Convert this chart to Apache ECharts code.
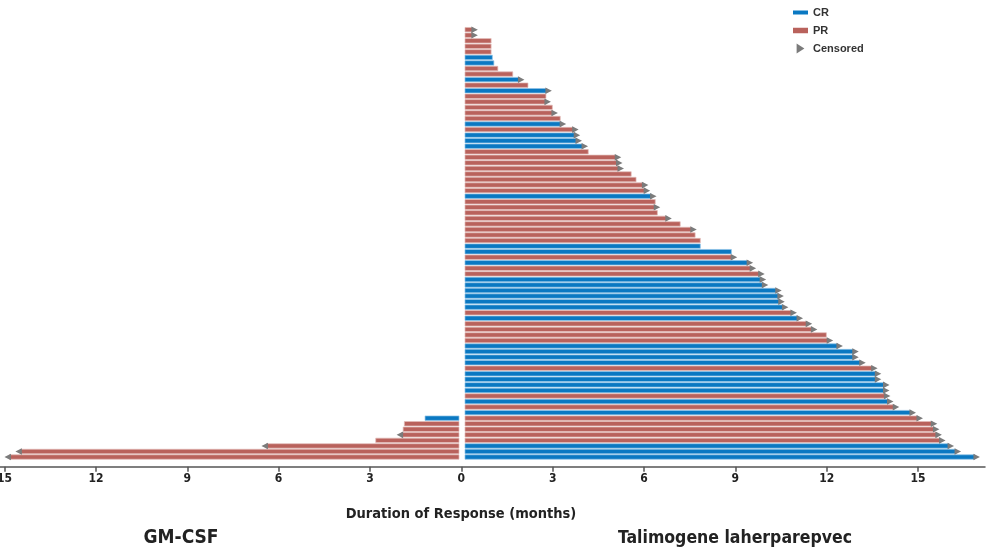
<!DOCTYPE html>
<html><head><meta charset="utf-8">
<script src="https://cdn.jsdelivr.net/npm/echarts@6/dist/echarts.min.js"></script>
<style>html,body{margin:0;padding:0;background:#fff}#c{width:988px;height:550px}</style>
</head><body><div id="c"></div>
<script>
// ---- data (rows listed top to bottom) ----
const tickValues = [-15, -12, -9, -6, -3, 0, 3, 6, 9, 12, 15];

const taliDuration = [
  0.38, 0.38, 0.98, 0.98, 0.98, 1.02, 1.07, 1.20, 1.69, 1.91,
  2.19, 2.81, 2.78, 2.78, 2.99, 3.01, 3.25, 3.28, 3.69, 3.74,
  3.80, 4.00, 4.17, 5.09, 5.13, 5.18, 5.58, 5.74, 5.98, 6.04,
  6.25, 6.37, 6.37, 6.44, 6.75, 7.19, 7.57, 7.68, 7.85, 7.85,
  8.87, 8.90, 9.42, 9.52, 9.80, 9.85, 9.92, 10.36, 10.43, 10.46,
  10.58, 10.86, 11.06, 11.36, 11.53, 11.99, 12.05, 12.37, 12.89, 12.89,
  13.12, 13.51, 13.63, 13.63, 13.90, 13.90, 13.93, 14.03, 14.22, 14.77,
  15.00, 15.47, 15.54, 15.62, 15.74, 16.02, 16.25, 16.87
];
const taliResponse = [
  'PR','PR','PR','PR','PR','CR','CR','PR','PR','CR',
  'PR','CR','PR','PR','PR','PR','PR','CR','PR','CR',
  'CR','CR','PR','PR','PR','PR','PR','PR','PR','PR',
  'CR','PR','PR','PR','PR','PR','PR','PR','PR','CR',
  'CR','PR','CR','PR','PR','CR','CR','CR','CR','CR',
  'CR','PR','CR','PR','PR','PR','PR','CR','CR','CR',
  'CR','PR','CR','CR','CR','CR','PR','CR','PR','CR',
  'PR','PR','PR','PR','PR','CR','CR','CR'
];
const taliCensored = [
  1,1,0,0,0,0,0,0,0,1,
  0,1,0,1,0,1,0,1,1,1,
  1,1,0,1,1,1,0,0,1,1,
  1,0,1,0,1,0,1,0,0,0,
  0,1,1,1,1,1,1,1,1,1,
  1,1,1,1,1,0,1,1,1,1,
  1,1,1,1,1,1,1,1,1,1,
  1,1,1,1,1,1,1,1
];

const gmDuration = [1.19, 1.87, 1.91, 1.96, 2.81, 6.40, 14.48, 14.84];
const gmResponse = ['CR','PR','PR','PR','PR','PR','PR','PR'];
const gmCensored = [0, 0, 0, 1, 0, 1, 1, 1];

const legendLabels = ['CR', 'PR', 'Censored'];
const axisTitle = 'Duration of Response (months)';
const armLabels = ['GM-CSF', 'Talimogene laherparepvec'];

// ---- build ----
const COLORS = { CR: '#0a78c2', PR: '#b9625c', Censored: '#7b7b7b' };
const EDGE = { CR: '#8fc3e6', PR: '#e3bcb8' };
const FONT = "'DejaVu Sans Condensed', 'Liberation Sans', sans-serif";

const nRows = taliDuration.length;
const rows = taliDuration.map((_, i) => String(i));
const gmOffset = nRows - gmDuration.length;

const barData = { CR: [], PR: [] };
const censData = [];
taliDuration.forEach((d, i) => {
  barData[taliResponse[i]].push([d, i]);
  if (taliCensored[i]) censData.push([d, i]);
});
gmDuration.forEach((d, j) => {
  barData[gmResponse[j]].push([-d, gmOffset + j]);
  if (gmCensored[j]) censData.push([-d, gmOffset + j]);
});

function barRenderer(key) {
  return function (params, api) {
    const v = api.value(0), row = api.value(1);
    const zero = api.coord([0, row]);
    const end = api.coord([v, row]);
    const h = api.size([0, 1])[1];
    const x0 = v >= 0 ? zero[0] + 3.7 : zero[0] - 2.3;
    const bh = h * 0.8;
    return {
      type: 'rect',
      shape: { x: Math.min(x0, end[0]), y: end[1] - bh / 2, width: Math.abs(end[0] - x0), height: bh },
      style: { fill: COLORS[key], stroke: EDGE[key], lineWidth: 0.7 }
    };
  };
}
function censRenderer(params, api) {
  const v = api.value(0), row = api.value(1);
  const p = api.coord([v, row]);
  const dir = v >= 0 ? 1 : -1;
  return {
    type: 'polygon',
    shape: { points: [[p[0] - dir * 1.5, p[1] - 3.3], [p[0] + dir * 5, p[1]], [p[0] - dir * 1.5, p[1] + 3.3]] },
    style: { fill: COLORS.Censored }
  };
}

const chart = echarts.init(document.getElementById('c'), null, { renderer: 'canvas' });
chart.setOption({
  animation: false,
  backgroundColor: '#ffffff',
  grid: { left: 0, width: 985, top: 26.9, height: 432.9, outerBoundsMode: 'none', containLabel: false },
  legend: {
    orient: 'vertical', left: 788, top: 2, itemWidth: 15, itemHeight: 10, itemGap: 7,
    symbolKeepAspect: true,
    textStyle: { color: '#333', fontSize: 11, fontWeight: 'bold', fontFamily: "'Liberation Sans', Arial, sans-serif" },
    data: [
      { name: legendLabels[0], icon: 'path://M0,0H15V4H0Z' },
      { name: legendLabels[1], icon: 'path://M0,0H15V5.5H0Z' },
      { name: legendLabels[2], icon: 'path://M0,0L7,4.5L0,9Z' }
    ]
  },
  xAxis: {
    type: 'value', min: -15.15, max: 17.2, offset: 7,
    splitLine: { show: false },
    axisLine: { show: true, lineStyle: { color: '#555', width: 1.5 } },
    axisTick: { show: true, customValues: tickValues, length: 5, lineStyle: { color: '#555', width: 1.5 } },
    axisLabel: {
      customValues: tickValues, formatter: v => String(Math.abs(v)),
      color: '#222', fontSize: 12, fontWeight: 'bold', fontFamily: FONT, margin: 6
    }
  },
  yAxis: { type: 'category', data: rows, inverse: true, show: false },
  series: [
    { name: 'CR', type: 'custom', itemStyle: { color: COLORS.CR }, renderItem: barRenderer('CR'), data: barData.CR, encode: { x: 0, y: 1 }, z: 2 },
    { name: 'PR', type: 'custom', itemStyle: { color: COLORS.PR }, renderItem: barRenderer('PR'), data: barData.PR, encode: { x: 0, y: 1 }, z: 2 },
    { name: 'Censored', type: 'custom', itemStyle: { color: COLORS.Censored }, renderItem: censRenderer, data: censData, encode: { x: 0, y: 1 }, z: 3 }
  ],
  graphic: [
    { type: 'text', x: 461, y: 514, style: { text: axisTitle, align: 'center', verticalAlign: 'middle', fill: '#222', font: "bold 14.5px " + FONT } },
    { type: 'text', x: 181, y: 538, style: { text: armLabels[0], align: 'center', verticalAlign: 'middle', fill: '#222', font: "bold 19px " + FONT } },
    { type: 'text', x: 735, y: 538, style: { text: armLabels[1], align: 'center', verticalAlign: 'middle', fill: '#222', font: "bold 17.5px " + FONT } }
  ]
});
</script>
</body></html>
